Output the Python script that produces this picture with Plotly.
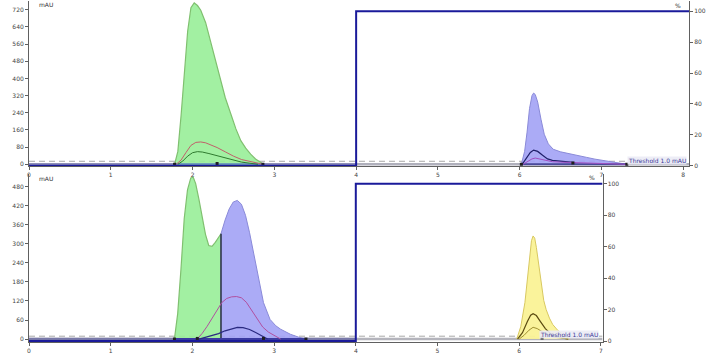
import plotly.graph_objects as go

# ---------------- data ----------------
# Top chromatogram
top_green_x = [1.78, 1.82, 1.86, 1.90, 1.94, 1.98, 2.02, 2.06, 2.10, 2.16, 2.22, 2.28, 2.34, 2.40, 2.47, 2.53, 2.59, 2.65, 2.71, 2.77, 2.83, 2.86]
top_green_y = [0, 60, 230, 430, 620, 730, 752, 740, 718, 660, 570, 480, 390, 310, 232, 165, 110, 75, 47, 25, 9, 0]
top_red_x = [1.80, 1.86, 1.92, 1.98, 2.04, 2.10, 2.16, 2.22, 2.30, 2.40, 2.50, 2.60, 2.70, 2.80, 2.86]
top_red_y = [0, 20, 55, 88, 102, 104, 100, 92, 78, 58, 38, 22, 12, 5, 0]
top_dgreen_x = [1.82, 1.88, 1.94, 2.00, 2.06, 2.12, 2.20, 2.30, 2.40, 2.50, 2.60, 2.70, 2.80]
top_dgreen_y = [0, 15, 38, 54, 59, 57, 50, 40, 28, 18, 10, 5, 0]
top_blue_x = [6.02, 6.06, 6.09, 6.12, 6.15, 6.17, 6.19, 6.22, 6.26, 6.30, 6.35, 6.41, 6.50, 6.62, 6.72, 6.82, 6.92, 7.02, 7.15, 7.31]
top_blue_y = [0, 60, 150, 260, 320, 332, 325, 290, 210, 140, 95, 70, 58, 47, 40, 32, 24, 17, 8, 0]
top_navy_x = [6.03, 6.08, 6.13, 6.17, 6.22, 6.28, 6.34, 6.40, 6.50, 6.60, 6.68]
top_navy_y = [0, 25, 55, 66, 60, 42, 25, 18, 14, 11, 8]
top_purple_x = [6.04, 6.10, 6.15, 6.19, 6.25, 6.32, 6.40, 6.50, 6.65, 6.80, 7.00, 7.20, 7.30]
top_purple_y = [0, 12, 25, 29, 25, 17, 12, 10, 8, 7, 5, 3, 0]
top_pct_x = [0, 4, 4, 8.07]
top_pct_y = [0, 0, 100, 100]
top_x_ticks = [0, 1, 2, 3, 4, 5, 6, 7, 8]
top_y_ticks = [0, 80, 160, 240, 320, 400, 480, 560, 640, 720]

# Bottom chromatogram
bot_green_x = [1.78, 1.82, 1.86, 1.90, 1.94, 1.98, 2.01, 2.04, 2.08, 2.12, 2.16, 2.20, 2.24, 2.28, 2.32, 2.35]
bot_green_y = [0, 80, 220, 380, 470, 508, 510, 490, 440, 380, 330, 295, 292, 305, 322, 332]
bot_blue_x = [2.35, 2.40, 2.45, 2.50, 2.55, 2.60, 2.65, 2.70, 2.75, 2.81, 2.87, 2.95, 3.02, 3.08, 3.20, 3.30, 3.39]
bot_blue_y = [332, 375, 410, 432, 437, 425, 390, 335, 269, 186, 115, 62, 42, 31, 15, 6, 0]
bot_red_x = [2.06, 2.12, 2.18, 2.24, 2.30, 2.36, 2.42, 2.48, 2.54, 2.60, 2.66, 2.72, 2.79, 2.86, 2.93, 3.00, 3.08]
bot_red_y = [0, 18, 40, 65, 90, 115, 128, 133, 134, 130, 116, 92, 62, 38, 22, 12, 0]
bot_navy_x = [2.08, 2.16, 2.24, 2.32, 2.40, 2.48, 2.55, 2.62, 2.70, 2.78, 2.86, 2.92]
bot_navy_y = [0, 5, 10, 17, 26, 33, 37, 36, 30, 20, 8, 0]
bot_yellow_x = [5.97, 6.02, 6.07, 6.10, 6.13, 6.15, 6.17, 6.19, 6.21, 6.24, 6.27, 6.30, 6.33, 6.37, 6.41, 6.47, 6.53, 6.58, 6.62]
bot_yellow_y = [0, 40, 115, 190, 269, 310, 325, 318, 289, 230, 165, 122, 93, 66, 46, 28, 15, 6, 0]
bot_dark_x = [5.98, 6.04, 6.10, 6.14, 6.17, 6.21, 6.26, 6.32, 6.38, 6.45, 6.52, 6.60]
bot_dark_y = [0, 20, 55, 75, 80, 74, 55, 33, 18, 9, 4, 0]
bot_olive_x = [6.00, 6.06, 6.12, 6.17, 6.22, 6.28, 6.35, 6.42, 6.50, 6.60]
bot_olive_y = [0, 12, 28, 37, 33, 22, 12, 6, 3, 0]
bot_pct_x = [0, 4, 4, 7.02]
bot_pct_y = [0, 0, 100, 100]
bot_x_ticks = [0, 1, 2, 3, 4, 5, 6, 7]
bot_y_ticks = [0, 60, 120, 180, 240, 300, 360, 420, 480]
pct_ticks = [0, 20, 40, 60, 80, 100]

top_threshold = 14
bot_threshold = 9
threshold_label = "Threshold 1.0 mAU"
bot_cut_x = 2.35

# ---------------- figure ----------------
fig = go.Figure()

def line(x, y, color, width, xa, ya, dash=None, fill=None, fillcolor=None):
    fig.add_trace(go.Scatter(x=x, y=y, mode="lines", xaxis=xa, yaxis=ya,
                             line=dict(color=color, width=width, dash=dash),
                             fill=fill, fillcolor=fillcolor,
                             hoverinfo="skip", showlegend=False))

# --- top panel ---
line([0, 8.07], [0, 0], "#b0b0bc", 2.5, "x", "y")
line([0, 4], [0, 0], "#9090b8", 2.5, "x", "y")
line([0, 8.07], [top_threshold] * 2, "#a8a8a8", 1, "x", "y", dash="6px,4px")
line(top_green_x, top_green_y, "#80c070", 1.2, "x", "y", fill="toself", fillcolor="rgba(152,238,152,0.9)")
line([top_green_x[0], top_green_x[-1]], [0, 0], "#6fa0b8", 2.5, "x", "y")
line(top_red_x, top_red_y, "#c0606a", 1, "x", "y")
line(top_dgreen_x, top_dgreen_y, "#2f7a2f", 1, "x", "y")
line(top_blue_x, top_blue_y, "#8a8ad8", 1, "x", "y", fill="toself", fillcolor="rgba(162,162,245,0.9)")
line([top_blue_x[0], top_blue_x[-1]], [0, 0], "#4a4a9a", 2, "x", "y")
line(top_navy_x, top_navy_y, "#20206a", 1.2, "x", "y")
line(top_purple_x, top_purple_y, "#a050c0", 1, "x", "y")
fig.add_trace(go.Scatter(x=[top_green_x[0], top_green_x[-1], 2.3, top_blue_x[0], 6.65, top_blue_x[-1]],
                         y=[0, 0, 4, 0, 6, 0], mode="markers", xaxis="x", yaxis="y",
                         marker=dict(color="#202020", size=3, symbol="square"),
                         hoverinfo="skip", showlegend=False))
line(top_pct_x, top_pct_y, "#1a1a9a", 2, "x", "y2")

# --- bottom panel ---
line([0, 7.02], [0, 0], "#b4b4bc", 2.5, "x2", "y3")
line([0, 4], [0, 0], "#7878a8", 2.5, "x2", "y3")
line([0, 7.02], [bot_threshold] * 2, "#a8a8a8", 1, "x2", "y3", dash="6px,4px")
line(bot_green_x + [bot_cut_x, bot_green_x[0]], bot_green_y + [0, 0], "#80c070", 1.2, "x2", "y3",
     fill="toself", fillcolor="rgba(152,238,152,0.9)")
line([bot_cut_x] + bot_blue_x, [0] + bot_blue_y, "#8a8ad8", 1, "x2", "y3",
     fill="toself", fillcolor="rgba(162,162,245,0.9)")
line([bot_cut_x, bot_cut_x], [0, bot_green_y[-1]], "#202830", 1.3, "x2", "y3")
line([bot_green_x[0], bot_blue_x[-1]], [0, 0], "#3a3aa0", 2, "x2", "y3")
line(bot_red_x, bot_red_y, "#b050a0", 1, "x2", "y3")
line(bot_navy_x, bot_navy_y, "#2a2a80", 1.2, "x2", "y3")
line(bot_yellow_x, bot_yellow_y, "#d8c860", 1, "x2", "y3", fill="toself", fillcolor="rgba(250,242,150,0.95)")
line(bot_dark_x, bot_dark_y, "#5a4a10", 1.2, "x2", "y3")
line(bot_olive_x, bot_olive_y, "#a09030", 1, "x2", "y3")
fig.add_trace(go.Scatter(x=[bot_green_x[0], 2.06, bot_blue_x[-1], 2.87, 6.28],
                         y=[0, 2, 0, 2, 3], mode="markers", xaxis="x2", yaxis="y3",
                         marker=dict(color="#202020", size=3, symbol="square"),
                         hoverinfo="skip", showlegend=False))
line(bot_pct_x, bot_pct_y, "#1a1a9a", 2, "x2", "y4")

tickfont = dict(family="DejaVu Sans", size=6, color="#444444")
axcommon = dict(showgrid=False, zeroline=False, showline=True, linecolor="#606060", linewidth=1,
                ticks="outside", ticklen=3, tickcolor="#606060", tickfont=tickfont)

fig.update_layout(
    width=710, height=354,
    margin=dict(l=29, r=21, t=0, b=6),
    paper_bgcolor="white", plot_bgcolor="white",
    showlegend=False,
    xaxis=dict(domain=[0, 1], range=[0, 8.07], anchor="y", tickvals=top_x_ticks, **axcommon),
    yaxis=dict(domain=[0.514, 0.997], range=[-9, 761], anchor="x", tickvals=top_y_ticks, **axcommon),
    yaxis2=dict(range=[-0.3, 106.7], overlaying="y", side="right", anchor="x", tickvals=pct_ticks, **axcommon),
    xaxis2=dict(domain=[0, 0.869], range=[0, 7.02], anchor="y3", tickvals=bot_x_ticks, **axcommon),
    yaxis3=dict(domain=[0, 0.491], range=[-9.3, 520], anchor="x2", tickvals=bot_y_ticks, **axcommon),
    yaxis4=dict(range=[-0.6, 106.2], overlaying="y3", side="right", anchor="x2", tickvals=pct_ticks, **axcommon),
)

ann_font = dict(family="DejaVu Sans", size=6, color="#333333")
fig.add_annotation(text="mAU", xref="x", yref="y", x=0.1, y=745, showarrow=False, xanchor="left", font=ann_font)
fig.add_annotation(text="%", xref="x", yref="y2", x=8.0, y=104, showarrow=False, xanchor="right", font=ann_font)
fig.add_annotation(text="mAU", xref="x2", yref="y3", x=0.1, y=505, showarrow=False, xanchor="left", font=ann_font)
fig.add_annotation(text="%", xref="x2", yref="y4", x=6.95, y=104, showarrow=False, xanchor="right", font=ann_font)
lab_font = dict(family="DejaVu Sans", size=6, color="#3a3a9a")
fig.add_annotation(text=threshold_label, xref="x", yref="y", x=8.05, y=top_threshold + 2, showarrow=False,
                   xanchor="right", yanchor="middle", font=lab_font, bgcolor="rgba(235,235,245,0.9)", borderpad=0)
fig.add_annotation(text=threshold_label, xref="x2", yref="y3", x=6.98, y=bot_threshold + 5, showarrow=False,
                   xanchor="right", yanchor="middle", font=lab_font, bgcolor="rgba(235,235,245,0.9)", borderpad=0)

fig.write_html("out.html")
